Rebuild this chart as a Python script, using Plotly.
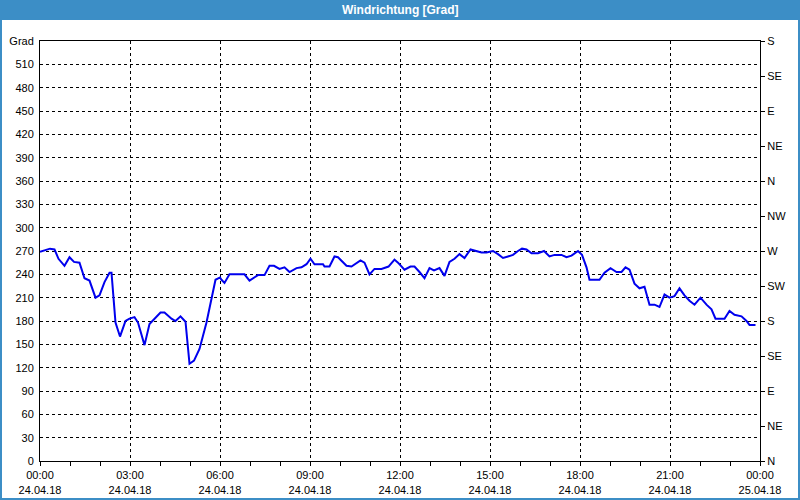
import plotly.graph_objects as go
import pandas as pd

# Time in minutes after 24.04.18 00:00
minutes = [0, 16, 20, 29, 37, 49, 59, 68, 79, 89, 99, 111, 119, 129, 139, 143, 151, 160, 171, 179,
           189, 196, 209, 219, 229, 241, 249, 263, 271, 281, 291, 299, 308, 319, 333, 343, 351, 360,
           363, 369, 379, 409, 419, 436, 449, 459, 468, 479, 489, 499, 513, 523, 533, 541, 549, 566,
           569, 579, 589, 596, 613, 623, 641, 649, 659, 669, 683, 697, 709, 716, 729, 741, 749, 759,
           769, 779, 788, 799, 809, 819, 829, 839, 849, 861, 873, 883, 893, 906, 916, 926, 936, 946,
           956, 964, 973, 983, 996, 1008, 1019, 1029, 1043, 1053, 1063, 1076, 1084, 1093, 1099, 1119,
           1129, 1141, 1153, 1163, 1171, 1179, 1189, 1199, 1209, 1219, 1229, 1239, 1249, 1259, 1269,
           1279, 1289, 1299, 1309, 1321, 1333, 1343, 1351, 1369, 1379, 1389, 1403, 1413, 1419, 1431]
direction = [269, 272, 273, 272, 260, 251, 262, 256, 255, 235, 232, 210, 213, 230, 242, 242, 178, 160, 180, 183,
             185, 178, 149, 176, 183, 191, 191, 183, 180, 186, 179, 125, 129, 144, 178, 208, 233, 236,
             233, 229, 240, 240, 232, 239, 239, 251, 251, 247, 249, 243, 248, 249, 253, 260, 253, 253,
             250, 250, 263, 262, 251, 250, 258, 255, 240, 247, 247, 250, 259, 255, 246, 250, 250, 243,
             235, 248, 245, 248, 238, 256, 260, 266, 261, 272, 270, 268, 268, 270, 266, 261, 263, 265,
             270, 273, 272, 267, 267, 270, 263, 265, 265, 262, 264, 270, 265, 249, 233, 233,
             242, 248, 243, 243, 249, 246, 228, 222, 224, 201, 201, 198, 214, 210, 212,
             222, 213, 206, 201, 210, 201, 195, 183, 183, 193, 188, 186, 180, 175, 175]

start = pd.Timestamp("2018-04-24 00:00")
times = [start + pd.Timedelta(minutes=m) for m in minutes]

x_tick_vals = [start + pd.Timedelta(hours=h) for h in range(0, 25, 3)]
x_tick_text = ["00:00<br>24.04.18", "03:00<br>24.04.18", "06:00<br>24.04.18", "09:00<br>24.04.18",
               "12:00<br>24.04.18", "15:00<br>24.04.18", "18:00<br>24.04.18", "21:00<br>24.04.18",
               "00:00<br>25.04.18"]
y_tick_vals = list(range(0, 541, 30))
y_tick_text = [str(v) for v in range(0, 511, 30)] + ["Grad"]
y2_tick_vals = list(range(0, 541, 45))
y2_tick_text = ["N", "NE", "E", "SE", "S", "SW", "W", "NW", "N", "NE", "E", "SE", "S"]

BLUE = "#3c8ec6"
FONT = "Liberation Sans"

fig = go.Figure()
fig.add_trace(go.Scatter(x=times, y=direction, mode="lines",
                         line=dict(color="#0000ee", width=2), showlegend=False))
fig.add_trace(go.Scatter(x=[times[0]], y=[0], yaxis="y2", mode="markers",
                         marker=dict(opacity=0), showlegend=False, hoverinfo="skip"))

fig.update_layout(
    width=800, height=500,
    margin=dict(l=40, r=40, t=41, b=39, autoexpand=False),
    paper_bgcolor="white", plot_bgcolor="white",
    font=dict(family=FONT, size=11, color="#000000"),
    xaxis=dict(range=[start, start + pd.Timedelta(hours=24)], type="date",
               tickvals=x_tick_vals, ticktext=x_tick_text, automargin=False,
               showgrid=True, gridcolor="black", griddash="3px,3px", gridwidth=1,
               showline=True, linecolor="black", linewidth=1, mirror=True,
               ticks="outside", ticklen=4, tickcolor="black",
               minor=dict(dtick=3600000, ticks="outside", ticklen=4, tickcolor="black", showgrid=False),
               zeroline=False, fixedrange=True),
    yaxis=dict(range=[0, 540], tickvals=y_tick_vals, ticktext=y_tick_text, automargin=False,
               showgrid=True, gridcolor="black", griddash="3px,3px", gridwidth=1,
               showline=True, linecolor="black", linewidth=1, mirror=True,
               ticks="", ticklabelstandoff=3, zeroline=False),
    yaxis2=dict(range=[0, 540], overlaying="y", side="right", automargin=False,
                tickvals=y2_tick_vals, ticktext=y2_tick_text,
                showgrid=False, showline=False, ticks="outside", ticklen=4, tickcolor="black",
                zeroline=False),
)

# Title bar and frame
fig.add_shape(type="rect", xref="paper", yref="paper",
              x0=-40/720, x1=760/720, y0=(461-20)/420, y1=461/420,
              fillcolor=BLUE, line=dict(width=0), layer="below")
fig.add_shape(type="rect", xref="paper", yref="paper",
              x0=-39/720, x1=759/720, y0=(461-499)/420, y1=460/420,
              line=dict(color=BLUE, width=2), fillcolor="rgba(0,0,0,0)")
fig.add_annotation(text="<b>Windrichtung [Grad]</b>", xref="paper", yref="paper",
                   x=0.5, y=(461-10)/420, xanchor="center", yanchor="middle",
                   showarrow=False, font=dict(family=FONT, size=12, color="white"))

fig.write_html("out.html")
